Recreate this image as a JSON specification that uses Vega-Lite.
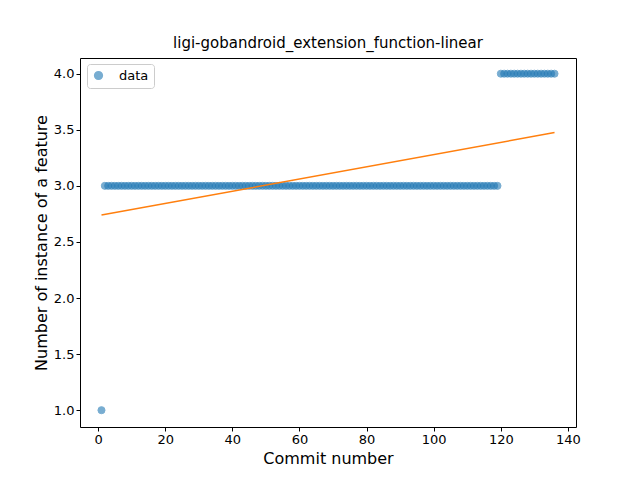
{
  "$schema": "https://vega.github.io/schema/vega-lite/v6.json",
  "width": 496,
  "height": 369,
  "autosize": {"type": "none"},
  "padding": {"left": 80, "top": 58, "right": 64, "bottom": 53},
  "background": "white",
  "config": {
    "font": "DejaVu Sans",
    "view": {"stroke": "black", "strokeWidth": 1},
    "axis": {"grid": false, "domain": false, "tickColor": "black", "labelColor": "black", "labelFontSize": 13, "titleFontSize": 16, "titleFontWeight": "normal", "titleColor": "black", "tickSize": 4}
  },
  "title": {"text": "ligi-gobandroid_extension_function-linear", "fontSize": 15, "fontWeight": "normal", "offset": 7},
  "datasets": {
    "pts": [
      {"x":1,"y":1},
      {"x":2,"y":3},{"x":3,"y":3},{"x":4,"y":3},{"x":5,"y":3},{"x":6,"y":3},{"x":7,"y":3},{"x":8,"y":3},{"x":9,"y":3},{"x":10,"y":3},
      {"x":11,"y":3},{"x":12,"y":3},{"x":13,"y":3},{"x":14,"y":3},{"x":15,"y":3},{"x":16,"y":3},{"x":17,"y":3},{"x":18,"y":3},{"x":19,"y":3},{"x":20,"y":3},
      {"x":21,"y":3},{"x":22,"y":3},{"x":23,"y":3},{"x":24,"y":3},{"x":25,"y":3},{"x":26,"y":3},{"x":27,"y":3},{"x":28,"y":3},{"x":29,"y":3},{"x":30,"y":3},
      {"x":31,"y":3},{"x":32,"y":3},{"x":33,"y":3},{"x":34,"y":3},{"x":35,"y":3},{"x":36,"y":3},{"x":37,"y":3},{"x":38,"y":3},{"x":39,"y":3},{"x":40,"y":3},
      {"x":41,"y":3},{"x":42,"y":3},{"x":43,"y":3},{"x":44,"y":3},{"x":45,"y":3},{"x":46,"y":3},{"x":47,"y":3},{"x":48,"y":3},{"x":49,"y":3},{"x":50,"y":3},
      {"x":51,"y":3},{"x":52,"y":3},{"x":53,"y":3},{"x":54,"y":3},{"x":55,"y":3},{"x":56,"y":3},{"x":57,"y":3},{"x":58,"y":3},{"x":59,"y":3},{"x":60,"y":3},
      {"x":61,"y":3},{"x":62,"y":3},{"x":63,"y":3},{"x":64,"y":3},{"x":65,"y":3},{"x":66,"y":3},{"x":67,"y":3},{"x":68,"y":3},{"x":69,"y":3},{"x":70,"y":3},
      {"x":71,"y":3},{"x":72,"y":3},{"x":73,"y":3},{"x":74,"y":3},{"x":75,"y":3},{"x":76,"y":3},{"x":77,"y":3},{"x":78,"y":3},{"x":79,"y":3},{"x":80,"y":3},
      {"x":81,"y":3},{"x":82,"y":3},{"x":83,"y":3},{"x":84,"y":3},{"x":85,"y":3},{"x":86,"y":3},{"x":87,"y":3},{"x":88,"y":3},{"x":89,"y":3},{"x":90,"y":3},
      {"x":91,"y":3},{"x":92,"y":3},{"x":93,"y":3},{"x":94,"y":3},{"x":95,"y":3},{"x":96,"y":3},{"x":97,"y":3},{"x":98,"y":3},{"x":99,"y":3},{"x":100,"y":3},
      {"x":101,"y":3},{"x":102,"y":3},{"x":103,"y":3},{"x":104,"y":3},{"x":105,"y":3},{"x":106,"y":3},{"x":107,"y":3},{"x":108,"y":3},{"x":109,"y":3},{"x":110,"y":3},
      {"x":111,"y":3},{"x":112,"y":3},{"x":113,"y":3},{"x":114,"y":3},{"x":115,"y":3},{"x":116,"y":3},{"x":117,"y":3},{"x":118,"y":3},{"x":119,"y":3},
      {"x":120,"y":4},{"x":121,"y":4},{"x":122,"y":4},{"x":123,"y":4},{"x":124,"y":4},{"x":125,"y":4},{"x":126,"y":4},{"x":127,"y":4},{"x":128,"y":4},{"x":129,"y":4},
      {"x":130,"y":4},{"x":131,"y":4},{"x":132,"y":4},{"x":133,"y":4},{"x":134,"y":4},{"x":135,"y":4},{"x":136,"y":4}
    ],
    "fit": [{"x":1,"y":2.74},{"x":136,"y":3.475}]
  },
  "layer": [
    {
      "data": {"name": "pts"},
      "mark": {"type": "point", "filled": true, "size": 50, "opacity": 0.6, "stroke": "#1f77b4", "strokeWidth": 1},
      "encoding": {
        "x": {"field": "x", "type": "quantitative", "title": "Commit number", "scale": {"domain": [-5.4, 142.4], "nice": false, "zero": false}, "axis": {"values": [0,20,40,60,80,100,120,140]}},
        "y": {"field": "y", "type": "quantitative", "title": "Number of instance of a feature", "scale": {"domain": [0.85, 4.14], "nice": false, "zero": false}, "axis": {"values": [1,1.5,2,2.5,3,3.5,4], "format": ".1f"}},
        "color": {"datum": "data", "type": "nominal", "scale": {"range": ["#1f77b4"]},
          "legend": {"title": null, "orient": "none", "legendX": 7, "legendY": 6, "labelFontSize": 13, "strokeColor": "#cccccc", "padding": 5, "cornerRadius": 3, "fillColor": "white", "symbolOpacity": 0.6, "symbolSize": 60, "labelOffset": 14}}
      }
    },
    {
      "data": {"name": "fit"},
      "mark": {"type": "line", "color": "#ff7f0e", "strokeWidth": 1.5},
      "encoding": {
        "x": {"field": "x", "type": "quantitative"},
        "y": {"field": "y", "type": "quantitative"}
      }
    }
  ]
}
